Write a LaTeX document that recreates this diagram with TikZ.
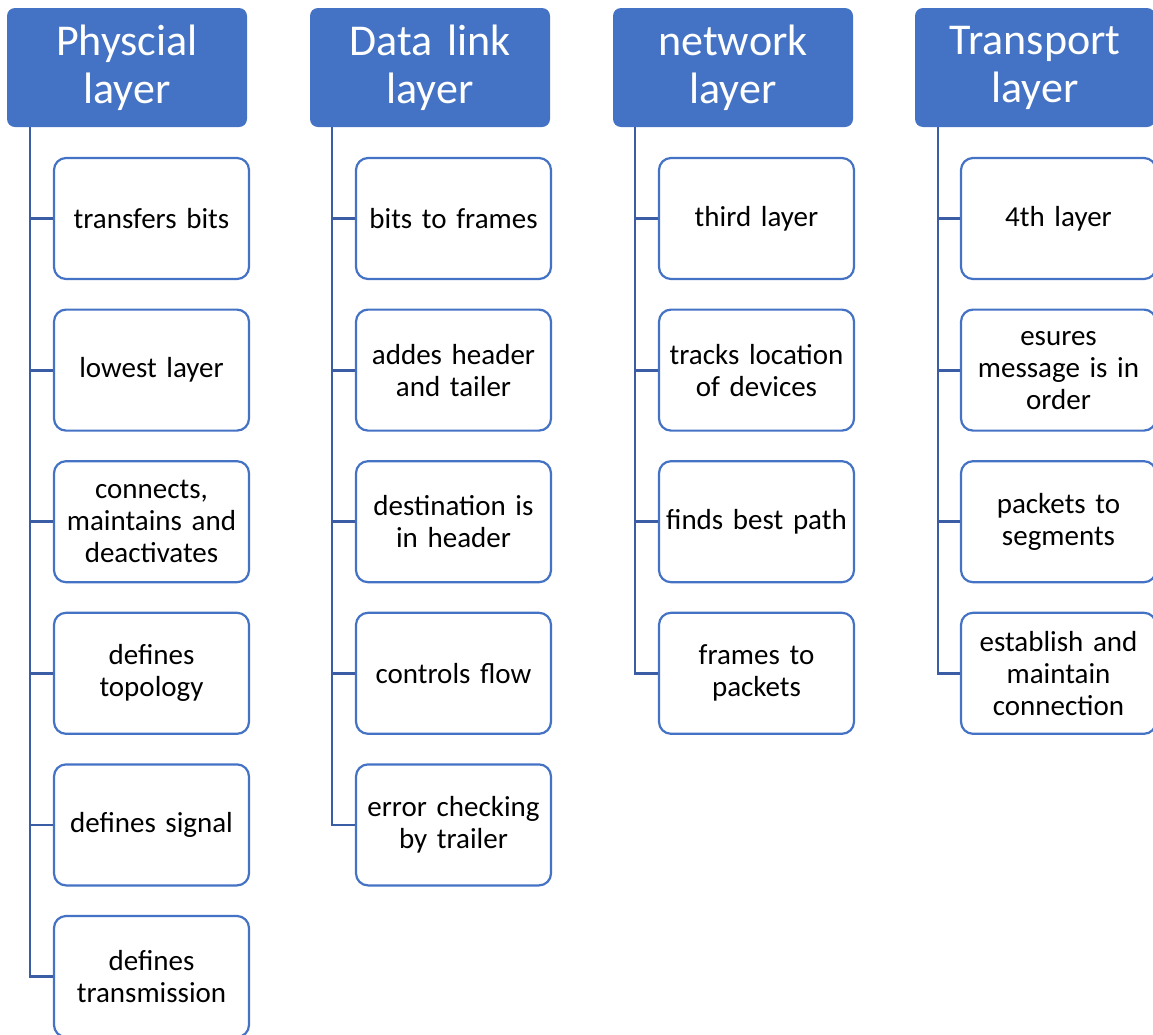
\documentclass[tikz,border=0pt]{standalone}
\usepackage{fontspec}
\setmainfont{Carlito}
\definecolor{accent}{HTML}{4472C4}
\definecolor{linkline}{HTML}{3A5DA6}
\tikzset{
  x=1pt, y=-1pt,
  layerhead/.style={rectangle, rounded corners=8pt, fill=accent, draw=none,
    minimum width=240pt, minimum height=119pt, inner sep=0pt,
    text width=236pt, align=center, text=white,
    font=\fontsize{44}{48}\selectfont},
  item/.style={rectangle, rounded corners=12pt, fill=white, draw=accent,
    line width=2.2pt, minimum width=195pt, minimum height=121pt, inner sep=0pt,
    text width=190pt, align=center, text=black,
    font=\fontsize{29}{32}\selectfont},
  tie/.style={draw=linkline, line width=2.8pt}
}
\begin{document}
\begin{tikzpicture}
\useasboundingbox (0,0) rectangle (1153,1034);

% headers
\node[layerhead] (h1) at (127,67.5) {Physcial\\layer};
\node[layerhead] (h2) at (430,67.5) {Data link\\layer};
\node[layerhead] (h3) at (733,67.5) {network\\layer};
\node[layerhead] (h4) at (1035,67.5) {Transport\\layer};

% trunk start points under the headers
\coordinate (t1) at (30,127);
\coordinate (t2) at (332,127);
\coordinate (t3) at (635,127);
\coordinate (t4) at (938,127);

% Physical layer items
\node[item] (a1) at (151.5,218.5) {transfers bits};
\node[item] (a2) at (151.5,370.1) {lowest layer};
\node[item] (a3) at (151.5,521.7) {connects,\\maintains and\\deactivates};
\node[item] (a4) at (151.5,673.3) {defines\\topology};
\node[item] (a5) at (151.5,824.9) {defines signal};
\node[item] (a6) at (151.5,976.5) {defines\\transmission};

% Data link layer items
\node[item] (b1) at (453.5,218.5) {bits to frames};
\node[item] (b2) at (453.5,370.1) {addes header\\and tailer};
\node[item] (b3) at (453.5,521.7) {destination is\\in header};
\node[item] (b4) at (453.5,673.3) {controls flow};
\node[item] (b5) at (453.5,824.9) {error checking\\by trailer};

% Network layer items
\node[item] (c1) at (756.5,218.5) {third layer};
\node[item] (c2) at (756.5,370.1) {tracks location\\of devices};
\node[item] (c3) at (756.5,521.7) {finds best path};
\node[item] (c4) at (756.5,673.3) {frames to\\packets};

% Transport layer items
\node[item] (d1) at (1058.5,218.5) {4th layer};
\node[item] (d2) at (1058.5,370.1) {esures\\message is in\\order};
\node[item] (d3) at (1058.5,521.7) {packets to\\segments};
\node[item] (d4) at (1058.5,673.3) {establish and\\maintain\\connection};

% trunks and branches
\foreach \n in {a1,a2,a3,a4,a5,a6} \draw[tie] (t1) |- (\n.west);
\foreach \n in {b1,b2,b3,b4,b5} \draw[tie] (t2) |- (\n.west);
\foreach \n in {c1,c2,c3,c4} \draw[tie] (t3) |- (\n.west);
\foreach \n in {d1,d2,d3,d4} \draw[tie] (t4) |- (\n.west);
\end{tikzpicture}
\end{document}
